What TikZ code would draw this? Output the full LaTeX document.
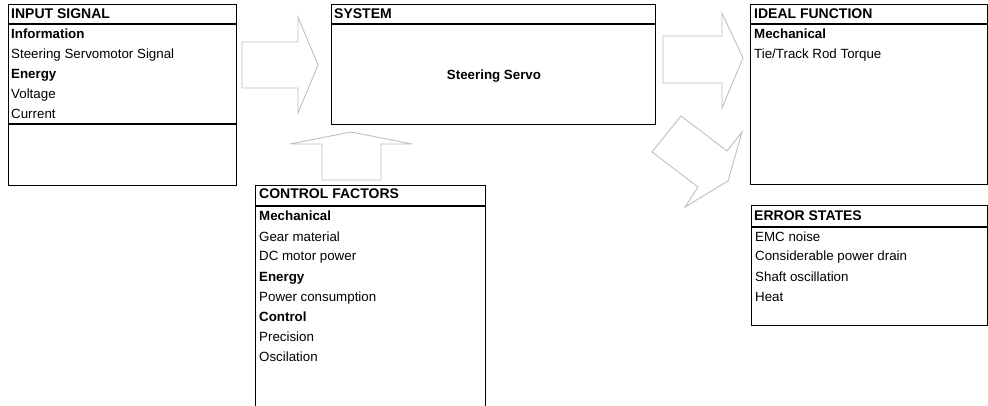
\documentclass[tikz,border=0pt]{standalone}
\usepackage{fontspec}
\setmainfont{Liberation Sans}
\usetikzlibrary{calc,positioning}

\tikzset{
  frame/.style={draw=black, line width=1.2pt, inner sep=0pt, anchor=north west},
  rule/.style={draw=black, line width=1.2pt},
  blockarrow/.style={draw=black!25, line width=0.9pt, line join=miter},
  rowtext/.style={anchor=base west, inner sep=0pt, font=\fontsize{13.33}{16}\selectfont},
  rowhead/.style={anchor=base west, inner sep=0pt, font=\fontsize{13.33}{16}\selectfont\bfseries},
  boxtitle/.style={anchor=base west, inner sep=0pt, font=\fontsize{14}{16}\selectfont\bfseries},
}

\begin{document}
\begin{tikzpicture}[x=1pt, y=-1pt]
    \clip (0,0) rectangle (988,406);

    % Boxes
    \node[frame, minimum width=228pt, minimum height=181pt] (input) at (8,4) {};
    \node[frame, minimum width=324pt, minimum height=120pt] (system) at (331,4) {};
    \node[frame, minimum width=237pt, minimum height=180pt] (ideal) at (750,4) {};
    \node[frame, minimum width=236pt, minimum height=120pt] (error) at (751,205) {};
    \node[frame, minimum width=230pt, minimum height=240pt] (control) at (255,185) {};

    % Header rules
    \foreach \b/\d in {input/20, system/20, ideal/20, error/22, control/21}
        \draw[rule] ($(\b.north west)+(0,\d)$) -- ($(\b.north east)+(0,\d)$);
    \draw[rule] ($(input.north west)+(0,120)$) -- ($(input.north east)+(0,120)$);

    % Titles
    \node[boxtitle] (inputtitle) at ($(input.north west)+(3,15)$) {INPUT SIGNAL};
    \node[boxtitle] (systemtitle) at ($(system.north west)+(3,15)$) {SYSTEM};
    \node[boxtitle] (idealtitle) at ($(ideal.north west)+(4,15)$) {IDEAL FUNCTION};
    \node[boxtitle] (errortitle) at ($(error.north west)+(3,16)$) {ERROR STATES};
    \node[boxtitle] (controltitle) at ($(control.north west)+(4,14)$) {CONTROL FACTORS};

    % Rows
    \foreach \s/\t [count=\i] in {rowhead/Information, rowtext/Steering Servomotor Signal,
                                  rowhead/Energy, rowtext/Voltage, rowtext/Current}
        \node[\s] (in\i) at ($(input.north west)+(3,15+20*\i)$) {\t};
    \foreach \s/\t [count=\i] in {rowhead/Mechanical, rowtext/{Tie/Track Rod Torque}}
        \node[\s] (id\i) at ($(ideal.north west)+(4,15+20*\i)$) {\t};
    \foreach \s/\t [count=\i] in {rowtext/EMC noise, rowtext/Considerable power drain,
                                  rowtext/Shaft oscillation, rowtext/Heat}
        \node[\s] (er\i) at ($(error.north west)+(4,16+20*\i)$) {\t};
    \foreach \s/\t [count=\i] in {rowhead/Mechanical, rowtext/Gear material, rowtext/DC motor power,
                                  rowhead/Energy, rowtext/Power consumption,
                                  rowhead/Control, rowtext/Precision, rowtext/Oscilation}
        \node[\s] (cf\i) at ($(control.north west)+(4,16+20*\i)$) {\t};

    \node[anchor=base, inner sep=0pt, font=\fontsize{13.33}{16}\selectfont\bfseries] (servo) at (494,80) {Steering Servo};

    % Block arrows
    \draw[blockarrow] (242,42) -- (298,42) -- (298,17) -- (318,65) -- (298,113) -- (298,88) -- (242,88) -- cycle;
    \draw[blockarrow] (322,180) -- (322,144) -- (290,144) -- (351,132) -- (412,144) -- (381,144) -- (381,180) -- cycle;
    \draw[blockarrow] (663,36) -- (722,36) -- (722,13) -- (743,58) -- (722,108) -- (722,83) -- (663,83) -- cycle;
    \draw[blockarrow] (681,116) -- (652,152) -- (698,187) -- (685,207) -- (728,181) -- (742,132) -- (727,151) -- cycle;
\end{tikzpicture}
\end{document}
